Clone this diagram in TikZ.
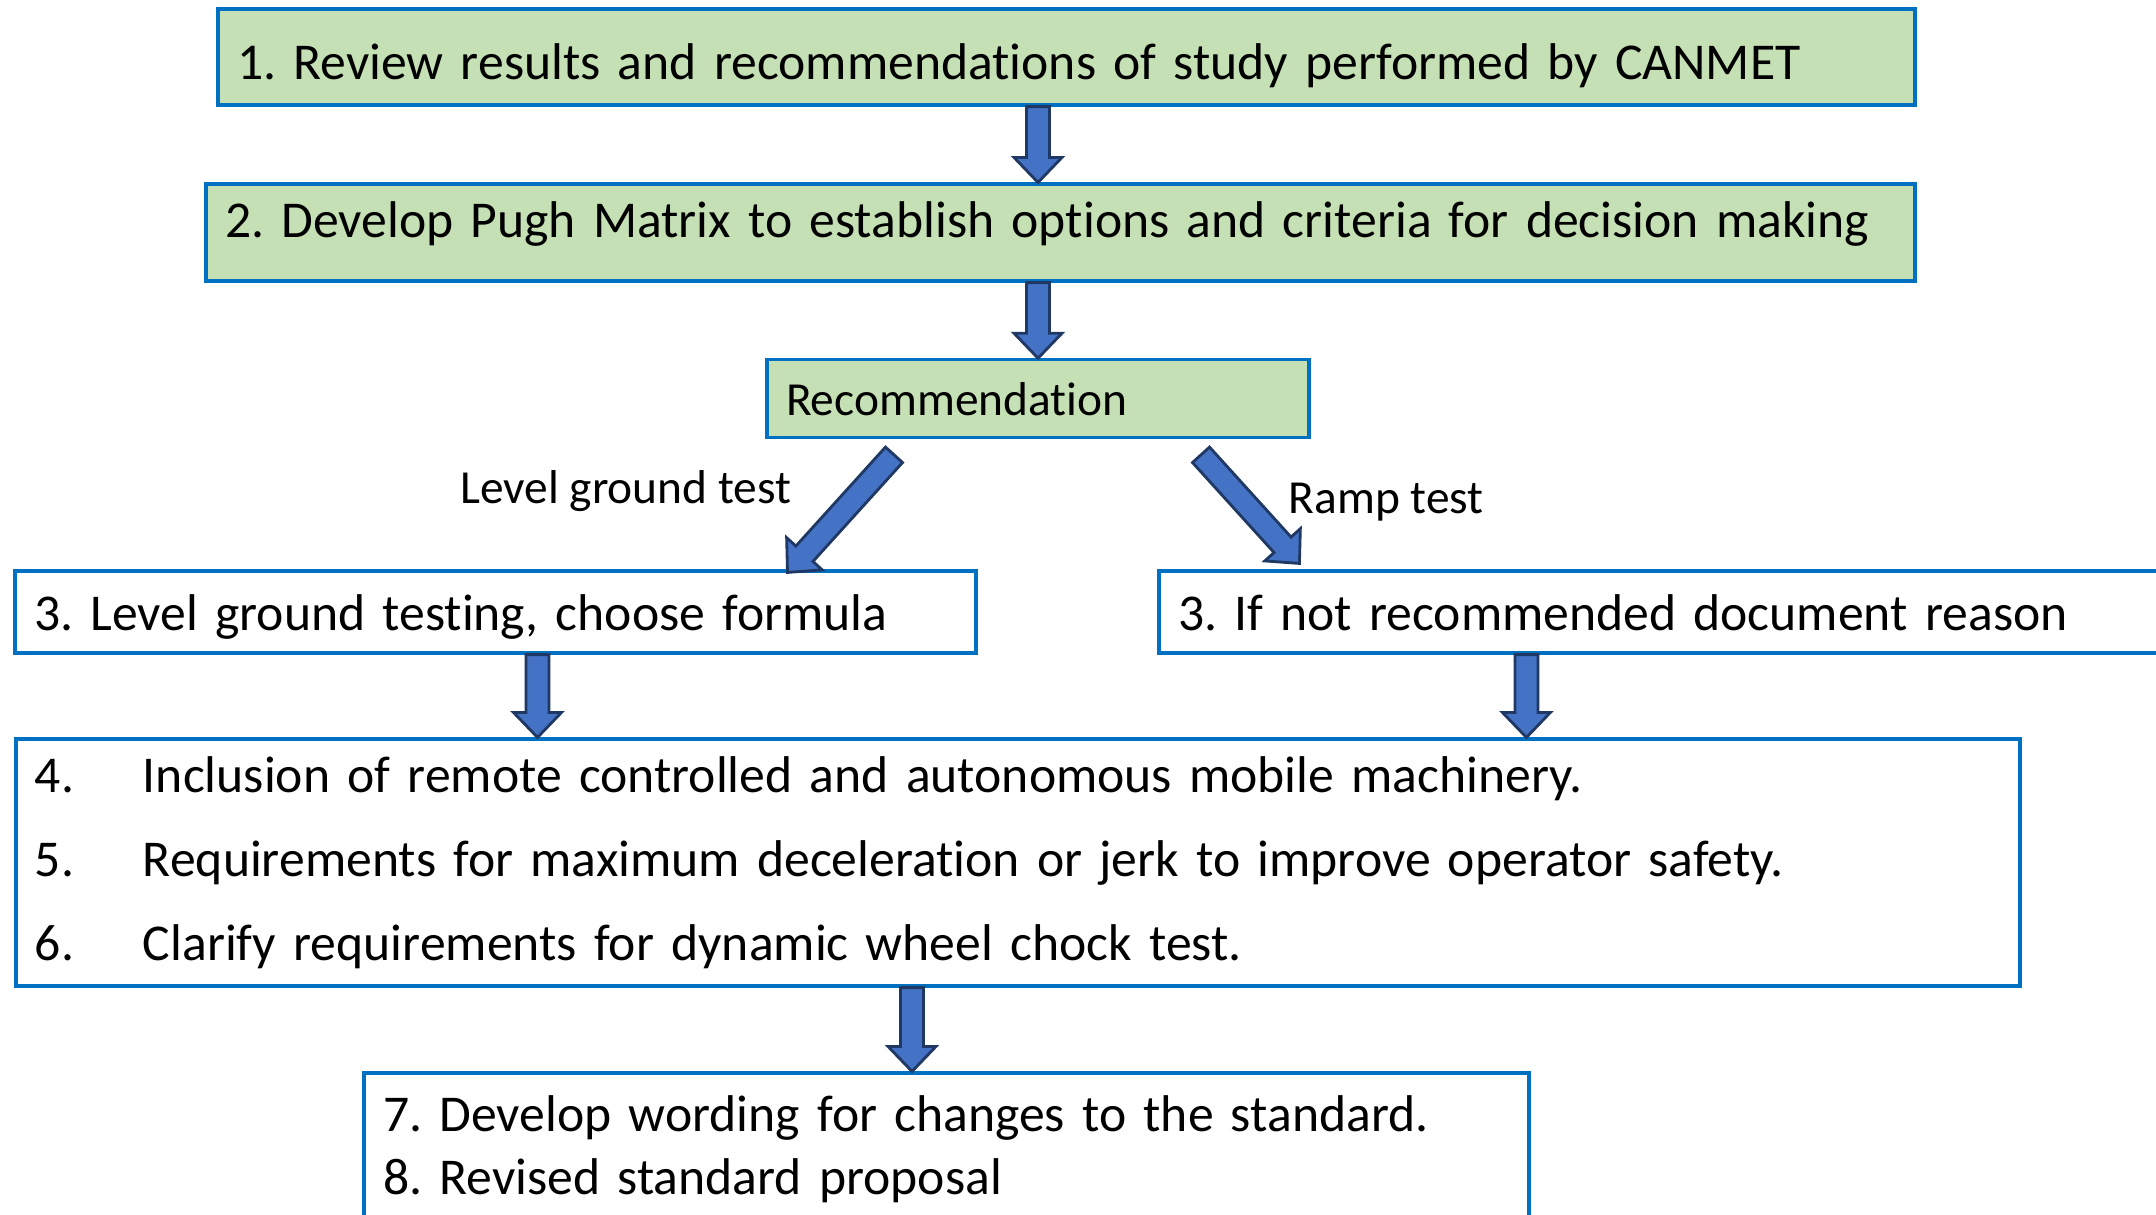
\documentclass[tikz,border=0pt]{standalone}
\usepackage{fontspec}
\setmainfont{Carlito}[Ligatures=NoCommon]
\usepackage{tikz}
\usetikzlibrary{calc,positioning}
\definecolor{boxline}{HTML}{0070C0}
\definecolor{stepgreen}{HTML}{C5E0B4}
\definecolor{arrowfill}{HTML}{4472C4}
\definecolor{arrowline}{HTML}{203864}
\frenchspacing

\newcommand{\shafthw}{0.115cm}
\newcommand{\headhw}{0.24cm}
\newcommand{\headlen}{0.25cm}
\newcommand{\blockarrow}[2]{%
  \draw[barrow] let \p1=(#1), \p2=(#2),
    \n1={atan2(\y2-\y1,\x2-\x1)},
    \n2={veclen(\x2-\x1,\y2-\y1)-\headlen} in
    ($(\p1)+(\n1+90:\shafthw)$)
    -- ($(\p1)+(\n1:\n2)+(\n1+90:\shafthw)$)
    -- ($(\p1)+(\n1:\n2)+(\n1+90:\headhw)$)
    -- (\p2)
    -- ($(\p1)+(\n1:\n2)+(\n1-90:\headhw)$)
    -- ($(\p1)+(\n1:\n2)+(\n1-90:\shafthw)$)
    -- ($(\p1)+(\n1-90:\shafthw)$) -- cycle;}

\begin{document}
\begin{tikzpicture}[
  stepbox/.style={rectangle, draw=boxline, line width=0.9pt, inner xsep=0.19cm, align=left, font=\fontsize{14.7}{18}\selectfont},
  greenbox/.style={stepbox, fill=stepgreen},
  lbl/.style={font=\fontsize{13.5}{16}\selectfont, inner sep=0pt},
  barrow/.style={draw=arrowline, fill=arrowfill, line width=0.8pt, line join=miter}
]
  \useasboundingbox (0,0) rectangle (21.56,-12.14);

  \node[greenbox, text width=16.59cm, minimum height=0.96cm, text height=0.548cm, text depth=0.1cm] (review) at (10.665,-0.57) {1. Review results and recommendations of study performed by CANMET};
  \node[greenbox, text width=16.71cm, minimum height=0.97cm, text height=0.4cm, text depth=0.3cm] (pugh) at (10.605,-2.325) {2. Develop Pugh Matrix to establish options and criteria for decision making};
  \node[greenbox, text width=5.04cm, minimum height=0.77cm, text height=0.44cm, text depth=0.1cm, font=\fontsize{13.5}{16}\selectfont] (rec) at (10.38,-3.985) {Recommendation};

  \node[stepbox, text width=9.23cm, minimum height=0.82cm, text height=0.47cm, text depth=0.1cm] (lvl) at (4.955,-6.12) {3. Level ground testing, choose formula};
  \node[stepbox, text width=10.82cm, minimum height=0.82cm, text height=0.47cm, text depth=0.1cm] (nrec) at (17.19,-6.12) {3. If not recommended document reason};

  \node[stepbox, text width=19.66cm, minimum height=2.47cm, font=\fontsize{14.7}{23.9}\selectfont] (req) at (10.18,-8.625) {%
    \makebox[1.08cm][l]{4.}Inclusion of remote controlled and autonomous mobile machinery.\\
    \makebox[1.08cm][l]{5.}Requirements for maximum deceleration or jerk to improve operator safety.\\
    \makebox[1.08cm][l]{6.}Clarify requirements for dynamic wheel chock test.};
  \node[stepbox, text width=11.27cm, minimum height=1.52cm] (prop) at (9.465,-11.49) {%
    7. Develop wording for changes to the standard.\\
    8. Revised standard proposal};

  \node[lbl, anchor=base east] (lvl-lbl) at (7.92,-5.03) {Level ground test};
  \node[lbl, anchor=base west] (ramp-lbl) at (12.88,-5.13) {Ramp test};

  \path ([xshift=0.42cm]lvl.south) coordinate (lvl-out)
        ([xshift=3.69cm]nrec.south west) coordinate (nrec-out)
        ([xshift=-1.06cm]req.south) coordinate (req-out);

  \blockarrow{review.south -| rec}{pugh.north -| rec}
  \blockarrow{pugh.south -| rec}{rec.north}
  \blockarrow{[xshift=-1.44cm,yshift=-0.16cm]rec.south}{[xshift=2.92cm,yshift=-0.03cm]lvl.north}
  \blockarrow{[xshift=1.63cm,yshift=-0.16cm]rec.south}{[xshift=1.42cm,yshift=0.06cm]nrec.north west}
  \blockarrow{lvl-out}{lvl-out |- req.north}
  \blockarrow{nrec-out}{nrec-out |- req.north}
  \blockarrow{req-out}{req-out |- prop.north}
\end{tikzpicture}
\end{document}
